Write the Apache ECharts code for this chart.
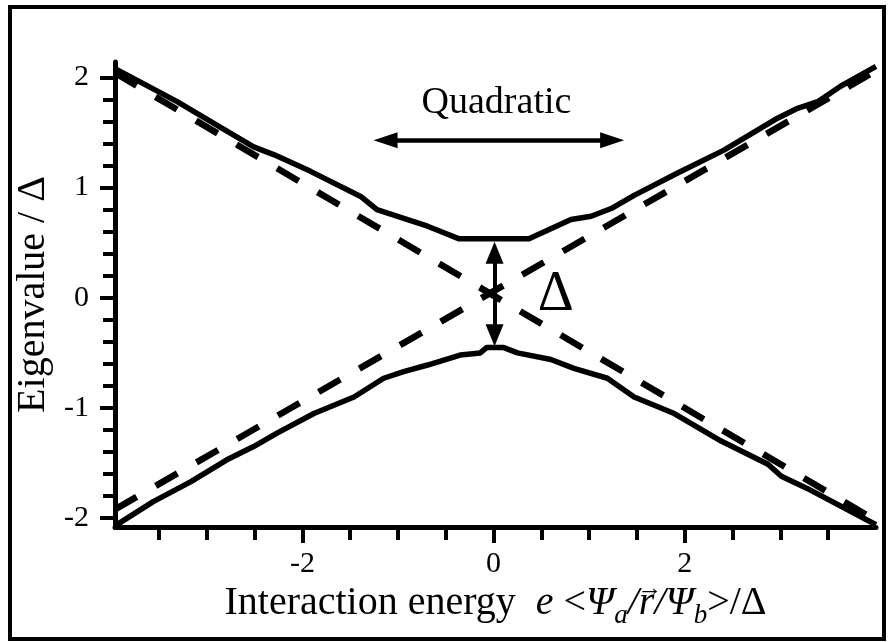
<!DOCTYPE html>
<html>
<head>
<meta charset="utf-8">
<script src="https://cdn.jsdelivr.net/npm/echarts@6/dist/echarts.min.js"></script>
<style>
  html, body { margin: 0; padding: 0; background: #fff; }
  #chart { width: 891px; height: 642px; }
</style>
</head>
<body>
<div id="chart"></div>
<script>
const serif = '"Liberation Serif", "Times New Roman", serif';

// x = interaction energy / Delta, y = eigenvalue / Delta
const upperBranch = [
  [-3.96, 2.08], [-3.31, 1.78], [-2.86, 1.55], [-2.51, 1.37], [-2.30, 1.30],
  [-1.92, 1.15], [-1.39, 0.92], [-1.22, 0.80], [-0.94, 0.72], [-0.69, 0.65],
  [-0.52, 0.59], [-0.36, 0.535], [0.37, 0.535], [0.53, 0.60], [0.81, 0.71],
  [1.02, 0.74], [1.23, 0.81], [1.47, 0.93], [1.92, 1.13], [2.41, 1.34],
  [2.97, 1.63], [3.18, 1.72], [3.39, 1.78], [3.63, 1.92], [4.0, 2.10]
];
const lowerBranch = [
  [-3.96, -2.07], [-3.56, -1.85], [-3.17, -1.67], [-2.79, -1.47], [-2.51, -1.35],
  [-2.27, -1.23], [-1.88, -1.05], [-1.46, -0.90], [-1.15, -0.73], [-0.94, -0.67],
  [-0.69, -0.61], [-0.35, -0.52], [-0.14, -0.50], [-0.07, -0.45], [0.10, -0.45],
  [0.25, -0.50], [0.60, -0.56], [0.84, -0.64], [1.19, -0.73], [1.47, -0.90],
  [1.89, -1.05], [2.38, -1.30], [2.87, -1.51], [3.01, -1.62], [3.28, -1.73],
  [4.0, -2.06]
];
// uncoupled levels (dashed)
const fallingLevel = [[-3.96, 2.04], [3.96, -2.0]];
const risingLevel = [[-3.96, -1.92], [3.96, 2.04]];

const xMajorTicks = [-2, 0, 2];
const xMinorTicks = [-3.5, -3, -2.5, -1.5, -1, -0.5, 0.5, 1, 1.5, 2.5, 3, 3.5];
const yMajorTicks = [-2, -1, 0, 1, 2];
const yMinorTicks = [-1.8, -1.6, -1.4, -1.2, -0.8, -0.6, -0.4, -0.2,
  0.2, 0.4, 0.6, 0.8, 1.2, 1.4, 1.6, 1.8];

// annotations: arrow shafts end at the middle of each arrow head
const quadraticArrow = [[-1.13, 1.43], [1.24, 1.43]];
const gapArrow = [[0.01, 0.41], [0.01, -0.34]];
const quadraticLabelAt = [0.03, 1.77];
const gapLabelAt = [0.65, 0.02];

const chart = echarts.init(document.getElementById("chart"));
const black = "#000";

// x axis title, as rich text tokens
const xTitleParts = [
  ["n", "Interaction energy  "], ["i", "e "], ["n", "<"], ["i", "Ψ"], ["s", "a"],
  ["i", "/"], ["i", "r"], ["i", "/Ψ"], ["s", "b"], ["n", ">/Δ"]
];
const titleRich = {
  n: { fontFamily: serif, fontSize: 40, color: black },
  i: { fontFamily: serif, fontSize: 40, fontStyle: "italic", color: black },
  s: { fontFamily: serif, fontSize: 27, fontStyle: "italic", color: black, padding: [25, 0, 0, 0] },
};
const xTitle = xTitleParts.map(([s, t]) => `{${s}|${t}}`).join("");

// find where the "r" sits so a vector arrow can go over it
function vectorArrowX() {
  const ctx = document.createElement("canvas").getContext("2d");
  const widthOf = ([s, t]) => {
    const st = titleRich[s];
    ctx.font = `${st.fontStyle || "normal"} ${st.fontSize}px ${serif}`;
    return ctx.measureText(t).width;
  };
  const total = xTitleParts.reduce((a, p) => a + widthOf(p), 0);
  const rIdx = 6;
  let before = 0;
  for (let k = 0; k < rIdx; k++) before += widthOf(xTitleParts[k]);
  const center = 115 + (891 - 115 - 15) / 2;
  return center - total / 2 + before + widthOf(xTitleParts[rIdx]) / 2;
}

function xAxisBase() {
  return {
    type: "value",
    min: -3.96,
    max: 4.0,
    position: "bottom",
    splitLine: { show: false },
    axisLine: { onZero: false, lineStyle: { color: black, width: 5 } },
  };
}
function yAxisBase() {
  return {
    type: "value",
    min: -2.08,
    max: 2.14,
    position: "left",
    splitLine: { show: false },
    axisLine: { onZero: false, lineStyle: { color: black, width: 5 } },
  };
}

const dashed = { color: black, width: 6.5, type: [25, 22], cap: "butt" };
const solid = { color: black, width: 5.5, join: "round" };

const option = {
  animation: false,
  backgroundColor: "#fff",
  grid: { left: 115, right: 15, top: 62, bottom: 115, containLabel: false },
  graphic: [
    {
      type: "rect",
      shape: { x: 10, y: 7, width: 874, height: 632 },
      style: { fill: "none", stroke: black, lineWidth: 4 },
      silent: true,
    },
    {
      type: "text",
      x: vectorArrowX() + 3,
      y: 589,
      silent: true,
      style: {
        text: "→",
        fontFamily: serif,
        fontSize: 25,
        fill: black,
        align: "center",
        verticalAlign: "middle",
      },
    },
  ],
  xAxis: [
    Object.assign(xAxisBase(), {
      name: xTitle,
      nameLocation: "middle",
      nameGap: 47,
      nameTextStyle: { rich: titleRich },
      axisTick: { customValues: xMajorTicks, length: 16, lineStyle: { color: black, width: 4 } },
      axisLabel: { customValues: xMajorTicks, fontFamily: serif, fontSize: 30, color: black, margin: 22 },
    }),
    Object.assign(xAxisBase(), {
      axisLine: { show: false, onZero: false },
      axisTick: { customValues: xMinorTicks, length: 13, lineStyle: { color: black, width: 4 } },
      axisLabel: { show: false },
    }),
  ],
  yAxis: [
    Object.assign(yAxisBase(), {
      name: "Eigenvalue / Δ",
      nameLocation: "middle",
      nameGap: 59,
      nameTextStyle: { fontFamily: serif, fontSize: 40, color: black },
      axisTick: { customValues: yMajorTicks, length: 15, lineStyle: { color: black, width: 4 } },
      axisLabel: { customValues: yMajorTicks, fontFamily: serif, fontSize: 30, color: black, margin: 26 },
    }),
    Object.assign(yAxisBase(), {
      axisLine: { show: false, onZero: false },
      axisTick: { customValues: yMinorTicks, length: 12, lineStyle: { color: black, width: 4 } },
      axisLabel: { show: false },
    }),
  ],
  series: [
    {
      name: "falling",
      type: "line",
      data: fallingLevel,
      symbol: "none",
      lineStyle: dashed,
      markLine: {
        silent: true,
        symbol: ["triangle", "triangle"],
        label: { show: false },
        emphasis: { disabled: true },
        data: [
          [
            { coord: quadraticArrow[0], symbolSize: [16, 24], lineStyle: { color: black, width: 4.5, type: "solid" } },
            { coord: quadraticArrow[1], symbolSize: [16, 24] },
          ],
          [
            { coord: gapArrow[0], symbolSize: [18, 22], lineStyle: { color: black, width: 4, type: "solid" } },
            { coord: gapArrow[1], symbolSize: [18, 22] },
          ],
        ],
      },
    },
    {
      name: "rising",
      type: "line",
      data: risingLevel,
      symbol: "none",
      lineStyle: dashed,
      markPoint: {
        silent: true,
        symbol: "circle",
        symbolSize: 1,
        itemStyle: { color: "rgba(0,0,0,0)" },
        data: [
          {
            coord: quadraticLabelAt,
            label: { show: true, position: "inside", formatter: "Quadratic", fontFamily: serif, fontSize: 38, color: black },
          },
          {
            coord: gapLabelAt,
            label: { show: true, position: "inside", formatter: "Δ", fontFamily: serif, fontSize: 56, color: black },
          },
        ],
      },
    },
    {
      name: "upper",
      type: "line",
      data: upperBranch,
      symbol: "none",
      lineStyle: solid,
    },
    {
      name: "lower",
      type: "line",
      data: lowerBranch,
      symbol: "none",
      lineStyle: solid,
    },
  ],
};

chart.setOption(option);

window.addEventListener("resize", () => {
  chart.resize();
});
</script>
</body>
</html>
